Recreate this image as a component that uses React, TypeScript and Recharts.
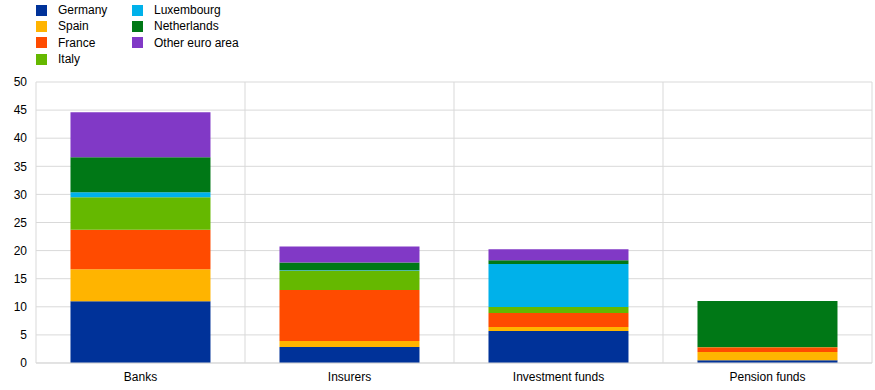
import React from 'react';
import { BarChart, Bar, XAxis, YAxis, CartesianGrid } from 'recharts';

const categories = ['Banks', 'Insurers', 'Investment funds', 'Pension funds'];
const germany = [11.0, 2.85, 5.7, 0.5];
const spain = [5.7, 1.05, 0.7, 1.45];
const france = [7.0, 9.1, 2.5, 0.85];
const italy = [5.8, 3.4, 1.05, 0.05];
const luxembourg = [0.9, 0.1, 7.65, 0];
const netherlands = [6.2, 1.4, 0.7, 8.2];
const otherEuro = [8.0, 2.85, 1.95, 0];
const yTicks = [0, 5, 10, 15, 20, 25, 30, 35, 40, 45, 50];

const seriesDefs = [
  { key: 'germany', name: 'Germany', color: '#003299', values: germany },
  { key: 'spain', name: 'Spain', color: '#ffb400', values: spain },
  { key: 'france', name: 'France', color: '#ff4b00', values: france },
  { key: 'italy', name: 'Italy', color: '#65b800', values: italy },
  { key: 'luxembourg', name: 'Luxembourg', color: '#00b1ea', values: luxembourg },
  { key: 'netherlands', name: 'Netherlands', color: '#007816', values: netherlands },
  { key: 'other', name: 'Other euro area', color: '#8139c6', values: otherEuro },
];

const data = categories.map((c, i) => {
  const row: Record<string, any> = { name: c };
  seriesDefs.forEach((s) => { row[s.key] = s.values[i]; });
  return row;
});

const FONT = '"Liberation Sans", Arial, sans-serif';

const LegendBox = () => (
  <div style={{
    position: 'absolute', left: 36, top: 2,
    display: 'grid', gridAutoFlow: 'column', gridTemplateRows: 'repeat(4, 16.3px)',
    gridTemplateColumns: '96px 140px', fontFamily: FONT, fontSize: 12, color: '#000',
  }}>
    {seriesDefs.map((s) => (
      <div key={s.key} style={{ display: 'flex', alignItems: 'center', height: 16.3 }}>
        <span style={{ display: 'inline-block', width: 11, height: 11, background: s.color, marginRight: 11 }} />
        <span style={{ lineHeight: '16px' }}>{s.name}</span>
      </div>
    ))}
  </div>
);

const vGen = (props: any) => {
  const { offset } = props;
  const n = categories.length;
  const out: number[] = [];
  for (let i = 0; i <= n; i++) out.push(offset.left + (offset.width * i) / n);
  return out;
};

export default function App() {
  return (
    <div style={{ position: 'absolute', left: 0, top: 0, width: 875, height: 390, background: '#fff' }}>
      <BarChart width={875} height={390} data={data} margin={{ top: 82, right: 3, bottom: 0, left: 0 }} barCategoryGap="16.5%">
        <CartesianGrid stroke="#d9d9d9" verticalCoordinatesGenerator={vGen} />
        <XAxis dataKey="name" height={27} tickLine={false} axisLine={{ stroke: '#d9d9d9' }}
          tick={{ fill: '#000', fontSize: 12, fontFamily: FONT }} tickMargin={3} interval={0} />
        <YAxis width={36} domain={[0, 50]} ticks={yTicks} tickLine={false} axisLine={false}
          tickSize={0} tickMargin={9} interval={0}
          tick={{ fill: '#000', fontSize: 12, fontFamily: FONT }} />
        {seriesDefs.map((s) => (
          <Bar key={s.key} dataKey={s.key} name={s.name} stackId="a" fill={s.color} isAnimationActive={false} />
        ))}
      </BarChart>
      <LegendBox />
    </div>
  );
}
